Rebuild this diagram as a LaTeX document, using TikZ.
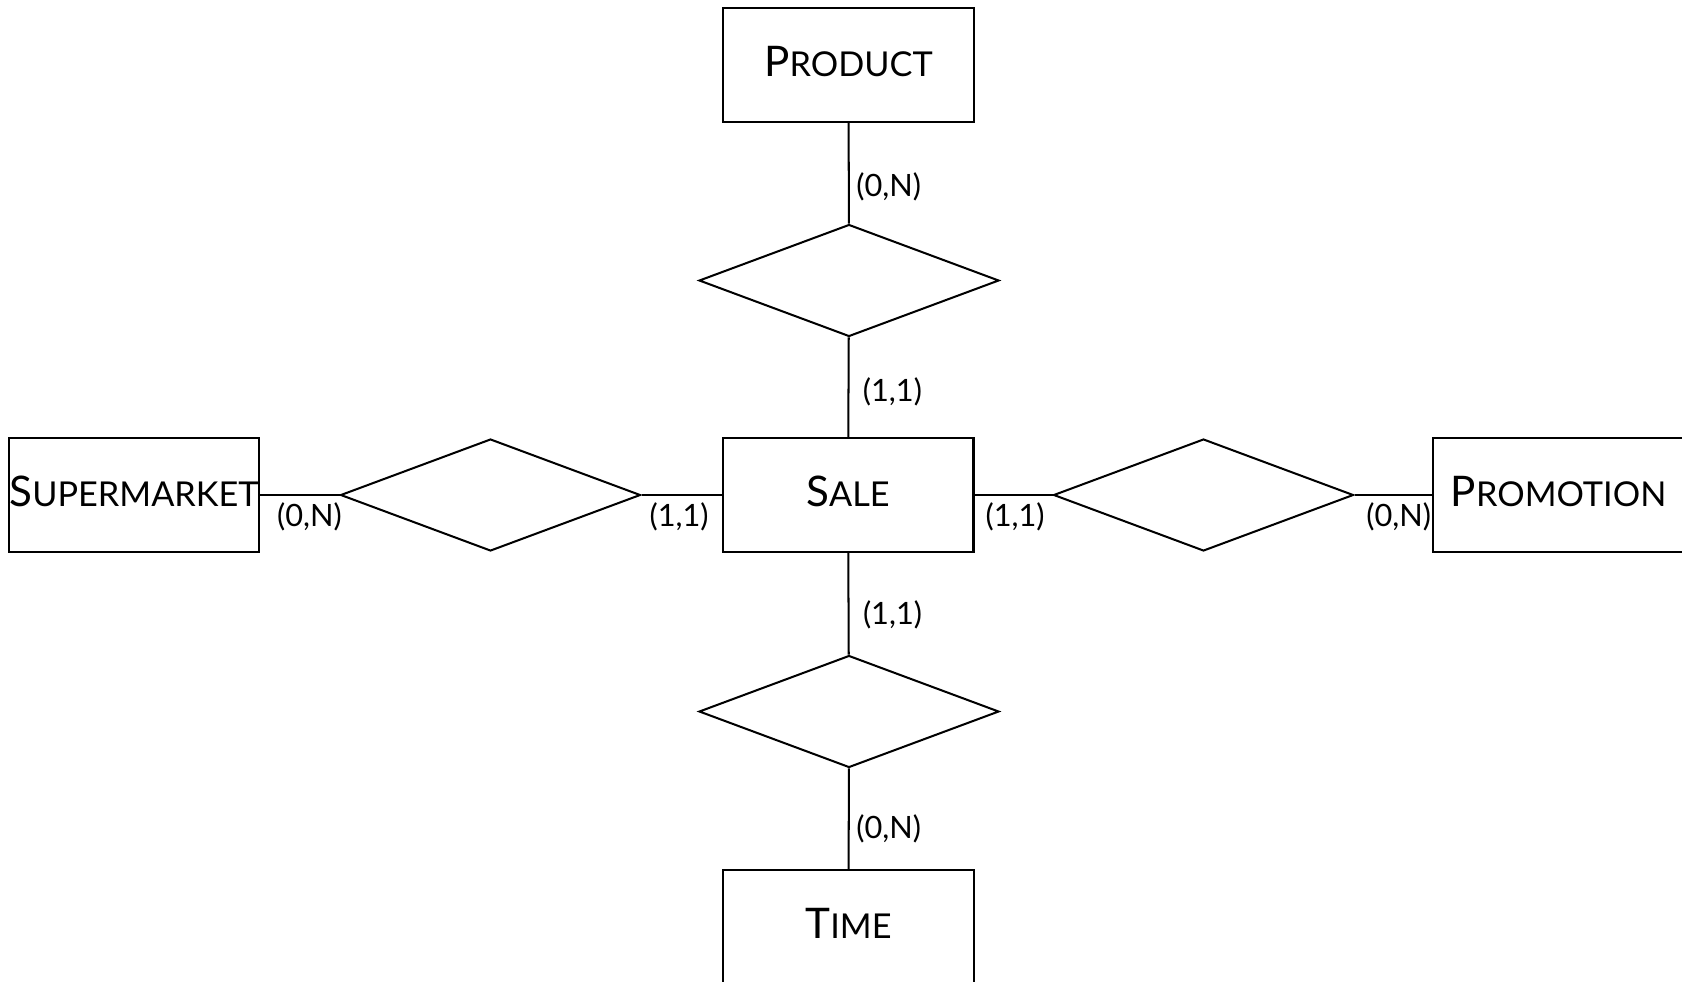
\documentclass[tikz,border=0pt]{standalone}
\usepackage{fontspec}
\setmainfont{Lato}
\usetikzlibrary{shapes.geometric}

% fake small caps: big first letter, smaller rest
\newcommand{\entname}[2]{{\fontsize{24}{24}\selectfont #1}{\fontsize{19.5}{20}\selectfont #2}}

\begin{document}
\begin{tikzpicture}[x=0.02cm, y=-0.02cm, line width=1.15pt,
    entity/.style={draw, rectangle, minimum width=5.02cm, minimum height=2.28cm, inner sep=0pt, text depth=0.14cm},
    relation/.style={draw, diamond, minimum width=6cm, minimum height=2.24cm, inner sep=0pt},
    card/.style={font=\fontsize{17.5}{17.5}\selectfont, inner sep=0pt}]

    \useasboundingbox (0, 0) rectangle (1682, 981);

    % Draw the entities
    \node[entity] (product) at (848.5, 65) {\entname{P}{RODUCT}};
    \node[entity] (sale) at (848, 495) {\entname{S}{ALE}};
    \node[entity] (time) at (848.5, 927) {\entname{T}{IME}};
    \node[entity] (supermarket) at (134, 495) {\entname{S}{UPERMARKET}};
    \node[entity] (promotion) at (1558.5, 495) {\entname{P}{ROMOTION}};

    % Draw the relationships (empty diamonds)
    \node[relation] (relprod) at (849, 280.5) {};
    \node[relation] (reltime) at (849, 711.5) {};
    \node[relation] (relsuper) at (490.5, 495) {};
    \node[relation] (relpromo) at (1203.5, 495) {};

    % Vertical links, cardinality to the right of the line
    \draw (product) -- (relprod) node[card, pos=0.63, xshift=0.8cm] (cprod) {(0,N)};
    \draw (relprod) -- (sale) node[card, pos=0.55, xshift=0.88cm] (csaletop) {(1,1)};
    \draw (sale) -- (reltime) node[card, pos=0.61, xshift=0.88cm] (csalebot) {(1,1)};
    \draw (reltime) -- (time) node[card, pos=0.60, xshift=0.8cm] (ctime) {(0,N)};

    % Horizontal links, cardinality below the line
    \draw (supermarket) -- (relsuper) node[card, pos=0.62, yshift=-0.44cm] (csuper) {(0,N)};
    \draw (relsuper) -- (sale) node[card, pos=0.47, yshift=-0.44cm] (csaleleft) {(1,1)};
    \draw (sale) -- (relpromo) node[card, pos=0.52, yshift=-0.44cm] (csaleright) {(1,1)};
    \draw (relpromo) -- (promotion) node[card, pos=0.57, yshift=-0.44cm] (cpromo) {(0,N)};

\end{tikzpicture}
\end{document}
